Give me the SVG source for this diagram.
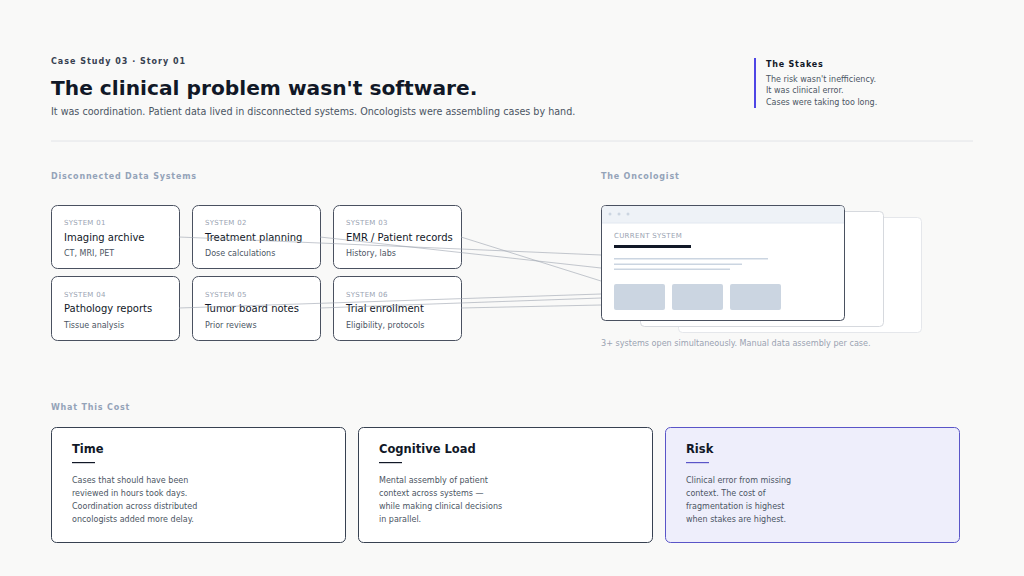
<svg xmlns="http://www.w3.org/2000/svg" width="1024" height="576" viewBox="0 0 1024 576">
<style>
text{font-family:"DejaVu Sans",sans-serif}
.sys{fill:#fff;stroke:#4a5160;stroke-width:1}
.k{font-size:7px;fill:#9aa3b2;letter-spacing:.3px}
.t{font-size:10px;fill:#111827}
.s{font-size:8px;fill:#4b5563}
.sec{font-size:8px;fill:#94a3b8;font-weight:bold;letter-spacing:.8px}
.card{fill:#fff;stroke:#374151;stroke-width:1}
.ct{font-size:11.5px;font-weight:bold;fill:#111827}
.cb{font-size:8px;fill:#4b5563}
.ln{stroke:#9ca3af;stroke-width:.6;fill:none}
</style>
<rect width="1024" height="576" fill="#f9f9f8"/>
<text x="51" y="64" font-size="8" font-weight="bold" fill="#374151" letter-spacing="1">Case Study 03 · Story 01</text>
<text x="51" y="95" font-size="20.2" font-weight="bold" fill="#111827">The clinical problem wasn't software.</text>
<text x="51" y="115" font-size="9.6" fill="#4b5563">It was coordination. Patient data lived in disconnected systems. Oncologists were assembling cases by hand.</text>
<rect x="754" y="58" width="2" height="50" fill="#4f46e5"/>
<text x="766" y="67" font-size="8" font-weight="bold" fill="#111827" letter-spacing=".8">The Stakes</text>
<text x="766" y="82" font-size="8" fill="#4b5563">The risk wasn't inefficiency.</text>
<text x="766" y="93" font-size="8" fill="#4b5563">It was clinical error.</text>
<text x="766" y="105" font-size="8" fill="#4b5563">Cases were taking too long.</text>
<line x1="51" y1="141" x2="973" y2="141" stroke="#e2e4e8"/>
<text class="sec" x="51" y="179">Disconnected Data Systems</text>
<text class="sec" x="601" y="179">The Oncologist</text>
<g id="sys1"><rect class="sys" x="51.5" y="205.5" width="128" height="63" rx="6"/><text class="k" x="64" y="225">SYSTEM 01</text><text class="t" x="64" y="241">Imaging archive</text><text class="s" x="64" y="256">CT, MRI, PET</text></g>
<g id="sys2"><rect class="sys" x="192.5" y="205.5" width="128" height="63" rx="6"/><text class="k" x="205" y="225">SYSTEM 02</text><text class="t" x="205" y="241">Treatment planning</text><text class="s" x="205" y="256">Dose calculations</text></g>
<g id="sys3"><rect class="sys" x="333.5" y="205.5" width="128" height="63" rx="6"/><text class="k" x="346" y="225">SYSTEM 03</text><text class="t" x="346" y="241">EMR / Patient records</text><text class="s" x="346" y="256">History, labs</text></g>
<g id="sys4"><rect class="sys" x="51.5" y="276.5" width="128" height="64" rx="6"/><text class="k" x="64" y="297">SYSTEM 04</text><text class="t" x="64" y="312">Pathology reports</text><text class="s" x="64" y="328">Tissue analysis</text></g>
<g id="sys5"><rect class="sys" x="192.5" y="276.5" width="128" height="64" rx="6"/><text class="k" x="205" y="297">SYSTEM 05</text><text class="t" x="205" y="312">Tumor board notes</text><text class="s" x="205" y="328">Prior reviews</text></g>
<g id="sys6"><rect class="sys" x="333.5" y="276.5" width="128" height="64" rx="6"/><text class="k" x="346" y="297">SYSTEM 06</text><text class="t" x="346" y="312">Trial enrollment</text><text class="s" x="346" y="328">Eligibility, protocols</text></g>
<g id="connectors">
<path class="ln" d="M179 237L601 255M320 237L601 268M461 237L601 281M179 308L601 294M320 308L601 298M461 308L601 305"/>
</g>
<g id="oncologist">
<rect x="678.5" y="217.5" width="243" height="115" rx="4" fill="#fff" stroke="#e5e7eb"/>
<rect x="640.5" y="211.5" width="243" height="115" rx="4" fill="#fff" stroke="#d6d9de"/>
<rect x="601.5" y="205.5" width="243" height="115" rx="4" fill="#fff" stroke="#4a5160"/>
<path d="M602 223V209.5a3.5 3.5 0 0 1 3.5-3.5H840.5a3.5 3.5 0 0 1 3.5 3.5V223Z" fill="#eef2f7"/>
<line x1="602" y1="223" x2="844" y2="223" stroke="#e2e8f0"/>
<circle cx="610" cy="214" r="1.5" fill="#cbd5e1"/><circle cx="619" cy="214" r="1.5" fill="#cbd5e1"/><circle cx="628" cy="214" r="1.5" fill="#cbd5e1"/>
<text x="614" y="238" font-size="7" fill="#9aa3b2" letter-spacing=".3">CURRENT SYSTEM</text>
<rect x="614" y="245" width="77" height="3" fill="#111827"/>
<rect x="614" y="258" width="154" height="1.5" fill="#cbd5e1"/>
<rect x="614" y="263.5" width="128" height="1.5" fill="#cbd5e1"/>
<rect x="614" y="268.5" width="116" height="1.5" fill="#cbd5e1"/>
<rect x="614" y="284" width="51" height="26" rx="2" fill="#cbd5e1"/>
<rect x="672" y="284" width="51" height="26" rx="2" fill="#cbd5e1"/>
<rect x="730" y="284" width="51" height="26" rx="2" fill="#cbd5e1"/>
<text x="601" y="346" font-size="8.1" fill="#9aa3b2">3+ systems open simultaneously. Manual data assembly per case.</text>
</g>
<text class="sec" x="51" y="410">What This Cost</text>
<g id="time"><rect class="card" x="51.5" y="427.5" width="294" height="115" rx="5"/><text class="ct" x="72" y="453">Time</text><rect x="72" y="462" width="23" height="1.2" fill="#111827"/><text class="cb" x="72" y="483">Cases that should have been</text><text class="cb" x="72" y="496">reviewed in hours took days.</text><text class="cb" x="72" y="509">Coordination across distributed</text><text class="cb" x="72" y="522">oncologists added more delay.</text></g>
<g id="cognitive"><rect class="card" x="358.5" y="427.5" width="294" height="115" rx="5"/><text class="ct" x="379" y="453">Cognitive Load</text><rect x="379" y="462" width="23" height="1.2" fill="#111827"/><text class="cb" x="379" y="483">Mental assembly of patient</text><text class="cb" x="379" y="496">context across systems —</text><text class="cb" x="379" y="509">while making clinical decisions</text><text class="cb" x="379" y="522">in parallel.</text></g>
<g id="risk"><rect x="665.5" y="427.5" width="294" height="115" rx="5" fill="#eeeefb" stroke="#5a55c8"/><text class="ct" x="686" y="453">Risk</text><rect x="686" y="462" width="23" height="1.2" fill="#5a55c8"/><text class="cb" x="686" y="483">Clinical error from missing</text><text class="cb" x="686" y="496">context. The cost of</text><text class="cb" x="686" y="509">fragmentation is highest</text><text class="cb" x="686" y="522">when stakes are highest.</text></g>
</svg>
